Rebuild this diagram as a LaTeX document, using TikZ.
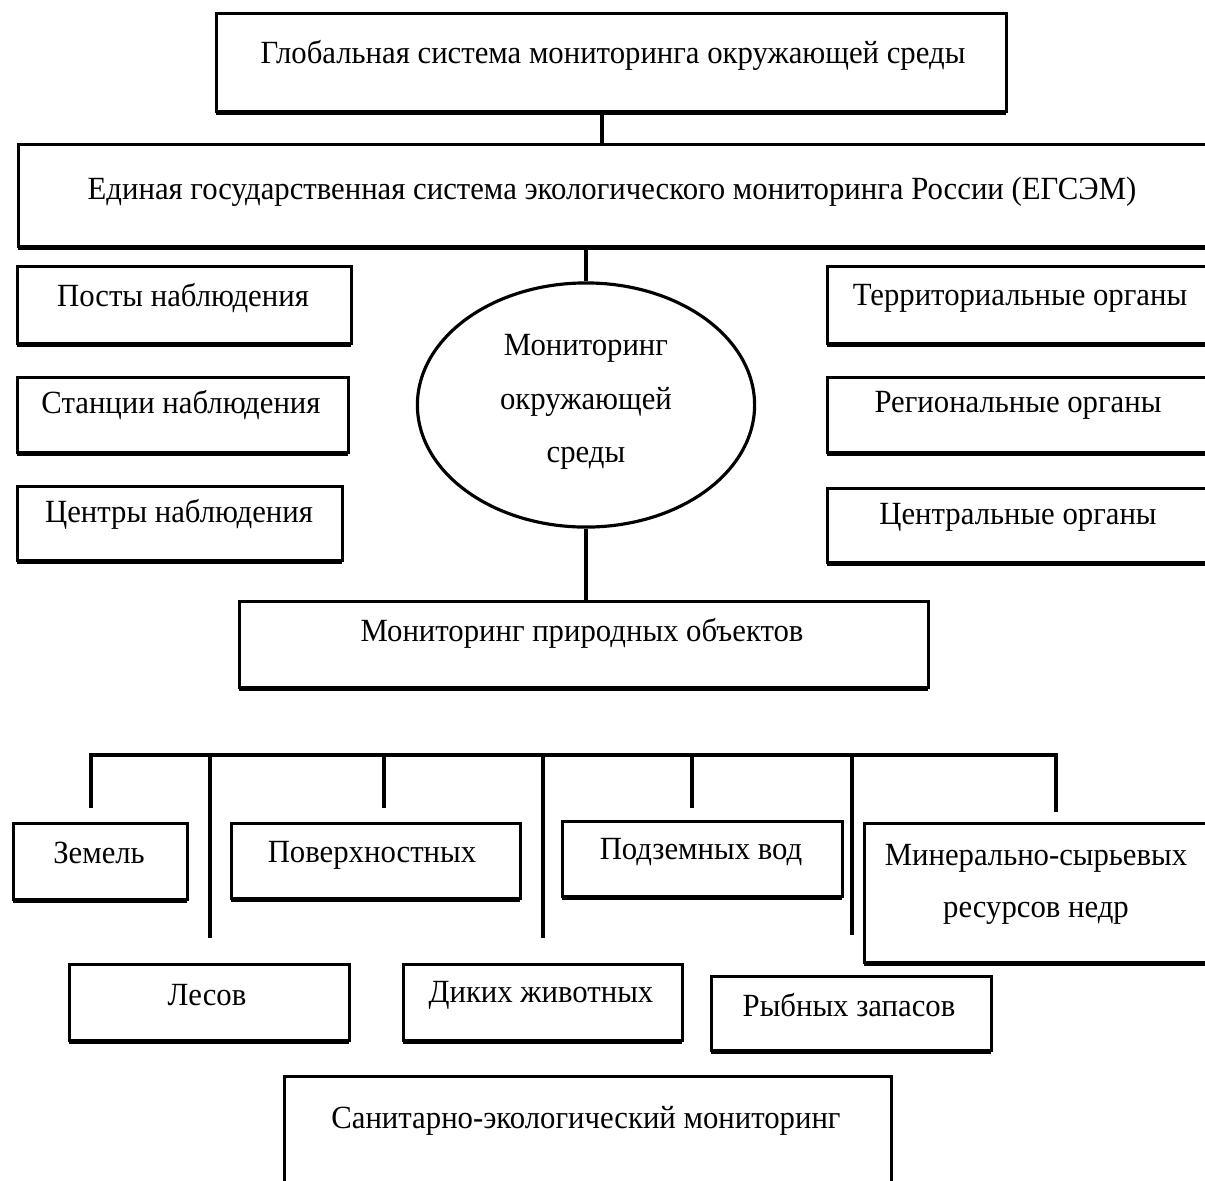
\documentclass[tikz,border=0pt]{standalone}
\usepackage{fontspec}
\setmainfont[FakeStretch=0.95]{Liberation Serif}
\usetikzlibrary{shapes.geometric,shadows}

% box from (x1,y1) to (x2,y2), coordinates in pixel units
\newcommand\pbox[5]{%
  \node[box, anchor=north west,
        minimum width={(#4-#2)*0.01cm},
        minimum height={(#5-#3)*0.01cm}] (#1) at (#2,#3) {};}

\begin{document}
\begin{tikzpicture}[x=0.01cm, y=-0.01cm,
  box/.style={draw=black, line width=0.8pt, fill=white, inner sep=0pt,
    drop shadow={shadow xshift=0pt, shadow yshift=-1.1pt, fill=black, opacity=1}},
  lbl/.style={font=\fontsize{9.2}{11}\selectfont, inner sep=0pt, align=center},
  conn/.style={line width=1.1pt, draw=black}]
\clip (0,0) rectangle (1205,1181);
\useasboundingbox (0,0) rectangle (1205,1181);
\fill[white] (0,0) rectangle (1205,1181);

% upper levels
\pbox{glob}{215}{12}{1005}{110}
\node[lbl] (globt) at (613,55) {Глобальная система мониторинга окружающей среды};
\pbox{egsm}{17}{143}{1230}{245}
\node[lbl] (egsmt) at (612,192) {Единая государственная система экологического мониторинга России (ЕГСЭМ)};

\node[draw=black, line width=0.9pt, ellipse, minimum width=3.37cm, minimum height=2.44cm,
      inner sep=0pt] (env) at (586,405) {};
\node[lbl, font=\fontsize{9.2}{15.2}\selectfont] (envt) at (586,402) {Мониторинг\\окружающей\\среды};

% left column
\pbox{post}{16}{265}{350}{342}
\node[lbl] (postt) at (183,298) {Посты наблюдения};
\pbox{stan}{16}{376}{347}{451}
\node[lbl] (stant) at (181,405) {Станции наблюдения};
\pbox{cent}{16}{485}{341}{559}
\node[lbl] (centt) at (179,514) {Центры наблюдения};

% right column
\pbox{terr}{826}{265}{1230}{342}
\node[lbl] (terrt) at (1020,298) {Территориальные органы};
\pbox{regi}{826}{376}{1230}{451}
\node[lbl] (regit) at (1018,405) {Региональные органы};
\pbox{cntr}{826}{487}{1230}{561}
\node[lbl] (cntrt) at (1018,517) {Центральные органы};

\pbox{nat}{238}{600}{927}{686}
\node[lbl] (natt) at (582,633) {Мониторинг природных объектов};

% bottom level
\pbox{zem}{12}{822}{186}{898}
\node[lbl] (zemt) at (99,853) {Земель};
\pbox{pov}{230}{822}{519}{897}
\node[lbl] (povt) at (372,855) {Поверхностных};
\pbox{podz}{561}{820}{841}{895}
\node[lbl] (podzt) at (701,852) {Подземных вод};
\pbox{min}{863}{822}{1230}{961}
\node[lbl, font=\fontsize{9.2}{14.8}\selectfont] (mint) at (1036,884) {Минерально-сырьевых\\ресурсов недр};
\pbox{les}{68}{963}{348}{1039}
\node[lbl] (lest) at (207,995) {Лесов};
\pbox{dik}{402}{963}{681}{1039}
\node[lbl] (dikt) at (541,995) {Диких животных};
\pbox{ryb}{710}{975}{990}{1049}
\node[lbl] (rybt) at (849,1005) {Рыбных запасов};
\pbox{san}{283}{1075}{890}{1200}
\node[lbl] (sant) at (586,1121) {Санитарно-экологический мониторинг};

% connectors
\draw[conn] (glob.south -| 602,0) -- (egsm.north -| 602,0);
\draw[conn] (egsm.south -| env.north) -- (env.north);
\draw[conn] (env.south) -- (nat.north -| env.south);

% distribution bus
\coordinate (busl) at (91,755);
\coordinate (busr) at (1056,755);
\coordinate (dzem) at (91,808);
\coordinate (dles) at (210,938);
\coordinate (dpov) at (384,808);
\coordinate (ddik) at (543,938);
\coordinate (dpodz) at (692,808);
\coordinate (dryb) at (852,935);
\coordinate (dmin) at (1056,812);
\draw[conn] (dzem) -- (busl) -- (busr) -- (dmin);
\foreach \d in {dles,dpov,ddik,dpodz,dryb}
  \draw[conn] (\d |- busl) -- (\d);
\end{tikzpicture}
\end{document}
